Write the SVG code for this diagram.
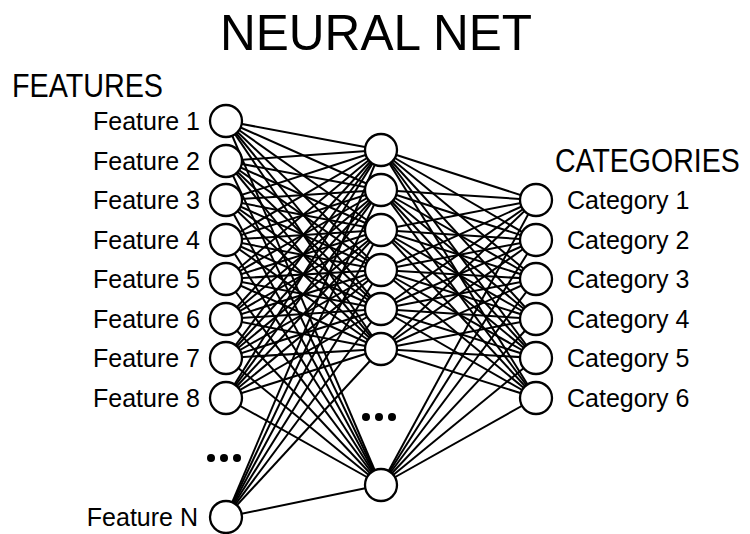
<svg xmlns="http://www.w3.org/2000/svg" width="750" height="534" viewBox="0 0 750 534">
  <style>
    .bg { fill: #ffffff; }
    .edge { stroke: #000; stroke-width: 2; fill: none; }
    .node { fill: #fff; stroke: #000; stroke-width: 2.3; }
    .dot { fill: #000; }
    text { font-family: "Liberation Sans", Arial, sans-serif; fill: #000; }
    .title { font-size: 50px; }
    .head { font-size: 34px; }
    .head-r { font-size: 28.5px; }
    .lbl { font-size: 25px; }
  </style>
  <rect class="bg" x="0" y="0" width="750" height="534"/>

  <text class="title" x="220" y="50" textLength="312" lengthAdjust="spacingAndGlyphs">NEURAL NET</text>
  <text class="head" x="12" y="97" textLength="151" lengthAdjust="spacingAndGlyphs">FEATURES</text>
  <!-- narrow heading, stretched vertically to keep the cap height -->
  <text class="head-r" transform="translate(555,172) scale(1,1.17)" x="0" y="0">CATEGORIES</text>

  <g id="connectors">
    <!-- input layer to hidden layer -->
    <line class="edge" x1="226" y1="121" x2="381" y2="150"/><line class="edge" x1="226" y1="121" x2="381" y2="190"/><line class="edge" x1="226" y1="121" x2="381" y2="230"/><line class="edge" x1="226" y1="121" x2="381" y2="270"/><line class="edge" x1="226" y1="121" x2="381" y2="309"/><line class="edge" x1="226" y1="121" x2="381" y2="349"/><line class="edge" x1="226" y1="121" x2="381" y2="485"/>
    <line class="edge" x1="226" y1="161" x2="381" y2="150"/><line class="edge" x1="226" y1="161" x2="381" y2="190"/><line class="edge" x1="226" y1="161" x2="381" y2="230"/><line class="edge" x1="226" y1="161" x2="381" y2="270"/><line class="edge" x1="226" y1="161" x2="381" y2="309"/><line class="edge" x1="226" y1="161" x2="381" y2="349"/><line class="edge" x1="226" y1="161" x2="381" y2="485"/>
    <line class="edge" x1="226" y1="200" x2="381" y2="150"/><line class="edge" x1="226" y1="200" x2="381" y2="190"/><line class="edge" x1="226" y1="200" x2="381" y2="230"/><line class="edge" x1="226" y1="200" x2="381" y2="270"/><line class="edge" x1="226" y1="200" x2="381" y2="309"/><line class="edge" x1="226" y1="200" x2="381" y2="349"/><line class="edge" x1="226" y1="200" x2="381" y2="485"/>
    <line class="edge" x1="226" y1="240" x2="381" y2="150"/><line class="edge" x1="226" y1="240" x2="381" y2="190"/><line class="edge" x1="226" y1="240" x2="381" y2="230"/><line class="edge" x1="226" y1="240" x2="381" y2="270"/><line class="edge" x1="226" y1="240" x2="381" y2="309"/><line class="edge" x1="226" y1="240" x2="381" y2="349"/><line class="edge" x1="226" y1="240" x2="381" y2="485"/>
    <line class="edge" x1="226" y1="279" x2="381" y2="150"/><line class="edge" x1="226" y1="279" x2="381" y2="190"/><line class="edge" x1="226" y1="279" x2="381" y2="230"/><line class="edge" x1="226" y1="279" x2="381" y2="270"/><line class="edge" x1="226" y1="279" x2="381" y2="309"/><line class="edge" x1="226" y1="279" x2="381" y2="349"/><line class="edge" x1="226" y1="279" x2="381" y2="485"/>
    <line class="edge" x1="226" y1="319" x2="381" y2="150"/><line class="edge" x1="226" y1="319" x2="381" y2="190"/><line class="edge" x1="226" y1="319" x2="381" y2="230"/><line class="edge" x1="226" y1="319" x2="381" y2="270"/><line class="edge" x1="226" y1="319" x2="381" y2="309"/><line class="edge" x1="226" y1="319" x2="381" y2="349"/><line class="edge" x1="226" y1="319" x2="381" y2="485"/>
    <line class="edge" x1="226" y1="358" x2="381" y2="150"/><line class="edge" x1="226" y1="358" x2="381" y2="190"/><line class="edge" x1="226" y1="358" x2="381" y2="230"/><line class="edge" x1="226" y1="358" x2="381" y2="270"/><line class="edge" x1="226" y1="358" x2="381" y2="309"/><line class="edge" x1="226" y1="358" x2="381" y2="349"/><line class="edge" x1="226" y1="358" x2="381" y2="485"/>
    <line class="edge" x1="226" y1="398" x2="381" y2="150"/><line class="edge" x1="226" y1="398" x2="381" y2="190"/><line class="edge" x1="226" y1="398" x2="381" y2="230"/><line class="edge" x1="226" y1="398" x2="381" y2="270"/><line class="edge" x1="226" y1="398" x2="381" y2="309"/><line class="edge" x1="226" y1="398" x2="381" y2="349"/><line class="edge" x1="226" y1="398" x2="381" y2="485"/>
    <line class="edge" x1="226" y1="517" x2="381" y2="150"/><line class="edge" x1="226" y1="517" x2="381" y2="190"/><line class="edge" x1="226" y1="517" x2="381" y2="230"/><line class="edge" x1="226" y1="517" x2="381" y2="270"/><line class="edge" x1="226" y1="517" x2="381" y2="309"/><line class="edge" x1="226" y1="517" x2="381" y2="349"/><line class="edge" x1="226" y1="517" x2="381" y2="485"/>
    <!-- hidden layer to output layer -->
    <line class="edge" x1="381" y1="150" x2="536" y2="200"/><line class="edge" x1="381" y1="150" x2="536" y2="240"/><line class="edge" x1="381" y1="150" x2="536" y2="279"/><line class="edge" x1="381" y1="150" x2="536" y2="319"/><line class="edge" x1="381" y1="150" x2="536" y2="358"/><line class="edge" x1="381" y1="150" x2="536" y2="398"/>
    <line class="edge" x1="381" y1="190" x2="536" y2="200"/><line class="edge" x1="381" y1="190" x2="536" y2="240"/><line class="edge" x1="381" y1="190" x2="536" y2="279"/><line class="edge" x1="381" y1="190" x2="536" y2="319"/><line class="edge" x1="381" y1="190" x2="536" y2="358"/><line class="edge" x1="381" y1="190" x2="536" y2="398"/>
    <line class="edge" x1="381" y1="230" x2="536" y2="200"/><line class="edge" x1="381" y1="230" x2="536" y2="240"/><line class="edge" x1="381" y1="230" x2="536" y2="279"/><line class="edge" x1="381" y1="230" x2="536" y2="319"/><line class="edge" x1="381" y1="230" x2="536" y2="358"/><line class="edge" x1="381" y1="230" x2="536" y2="398"/>
    <line class="edge" x1="381" y1="270" x2="536" y2="200"/><line class="edge" x1="381" y1="270" x2="536" y2="240"/><line class="edge" x1="381" y1="270" x2="536" y2="279"/><line class="edge" x1="381" y1="270" x2="536" y2="319"/><line class="edge" x1="381" y1="270" x2="536" y2="358"/><line class="edge" x1="381" y1="270" x2="536" y2="398"/>
    <line class="edge" x1="381" y1="309" x2="536" y2="200"/><line class="edge" x1="381" y1="309" x2="536" y2="240"/><line class="edge" x1="381" y1="309" x2="536" y2="279"/><line class="edge" x1="381" y1="309" x2="536" y2="319"/><line class="edge" x1="381" y1="309" x2="536" y2="358"/><line class="edge" x1="381" y1="309" x2="536" y2="398"/>
    <line class="edge" x1="381" y1="349" x2="536" y2="200"/><line class="edge" x1="381" y1="349" x2="536" y2="240"/><line class="edge" x1="381" y1="349" x2="536" y2="279"/><line class="edge" x1="381" y1="349" x2="536" y2="319"/><line class="edge" x1="381" y1="349" x2="536" y2="358"/><line class="edge" x1="381" y1="349" x2="536" y2="398"/>
    <line class="edge" x1="381" y1="485" x2="536" y2="200"/><line class="edge" x1="381" y1="485" x2="536" y2="240"/><line class="edge" x1="381" y1="485" x2="536" y2="279"/><line class="edge" x1="381" y1="485" x2="536" y2="319"/><line class="edge" x1="381" y1="485" x2="536" y2="358"/><line class="edge" x1="381" y1="485" x2="536" y2="398"/>
  </g>

  <!-- input layer -->
  <g id="feature-1"><circle class="node" cx="226" cy="121" r="16"/><text class="lbl" x="200" y="130" text-anchor="end">Feature 1</text></g>
  <g id="feature-2"><circle class="node" cx="226" cy="161" r="16"/><text class="lbl" x="200" y="170" text-anchor="end">Feature 2</text></g>
  <g id="feature-3"><circle class="node" cx="226" cy="200" r="16"/><text class="lbl" x="200" y="209" text-anchor="end">Feature 3</text></g>
  <g id="feature-4"><circle class="node" cx="226" cy="240" r="16"/><text class="lbl" x="200" y="249" text-anchor="end">Feature 4</text></g>
  <g id="feature-5"><circle class="node" cx="226" cy="279" r="16"/><text class="lbl" x="200" y="288" text-anchor="end">Feature 5</text></g>
  <g id="feature-6"><circle class="node" cx="226" cy="319" r="16"/><text class="lbl" x="200" y="328" text-anchor="end">Feature 6</text></g>
  <g id="feature-7"><circle class="node" cx="226" cy="358" r="16"/><text class="lbl" x="200" y="367" text-anchor="end">Feature 7</text></g>
  <g id="feature-8"><circle class="node" cx="226" cy="398" r="16"/><text class="lbl" x="200" y="407" text-anchor="end">Feature 8</text></g>
  <g id="feature-ellipsis"><circle class="dot" cx="211" cy="458" r="4"/><circle class="dot" cx="224" cy="458" r="4"/><circle class="dot" cx="237" cy="458" r="4"/></g>
  <g id="feature-n"><circle class="node" cx="226" cy="517" r="16"/><text class="lbl" x="198" y="526" text-anchor="end">Feature N</text></g>

  <!-- hidden layer -->
  <g id="hidden-1"><circle class="node" cx="381" cy="150" r="16"/></g>
  <g id="hidden-2"><circle class="node" cx="381" cy="190" r="16"/></g>
  <g id="hidden-3"><circle class="node" cx="381" cy="230" r="16"/></g>
  <g id="hidden-4"><circle class="node" cx="381" cy="270" r="16"/></g>
  <g id="hidden-5"><circle class="node" cx="381" cy="309" r="16"/></g>
  <g id="hidden-6"><circle class="node" cx="381" cy="349" r="16"/></g>
  <g id="hidden-ellipsis"><circle class="dot" cx="366" cy="417" r="4"/><circle class="dot" cx="379" cy="417" r="4"/><circle class="dot" cx="392" cy="417" r="4"/></g>
  <g id="hidden-n"><circle class="node" cx="381" cy="485" r="16"/></g>

  <!-- output layer -->
  <g id="category-1"><circle class="node" cx="536" cy="200" r="16"/><text class="lbl" x="567" y="209">Category 1</text></g>
  <g id="category-2"><circle class="node" cx="536" cy="240" r="16"/><text class="lbl" x="567" y="249">Category 2</text></g>
  <g id="category-3"><circle class="node" cx="536" cy="279" r="16"/><text class="lbl" x="567" y="288">Category 3</text></g>
  <g id="category-4"><circle class="node" cx="536" cy="319" r="16"/><text class="lbl" x="567" y="328">Category 4</text></g>
  <g id="category-5"><circle class="node" cx="536" cy="358" r="16"/><text class="lbl" x="567" y="367">Category 5</text></g>
  <g id="category-6"><circle class="node" cx="536" cy="398" r="16"/><text class="lbl" x="567" y="407">Category 6</text></g>
</svg>
